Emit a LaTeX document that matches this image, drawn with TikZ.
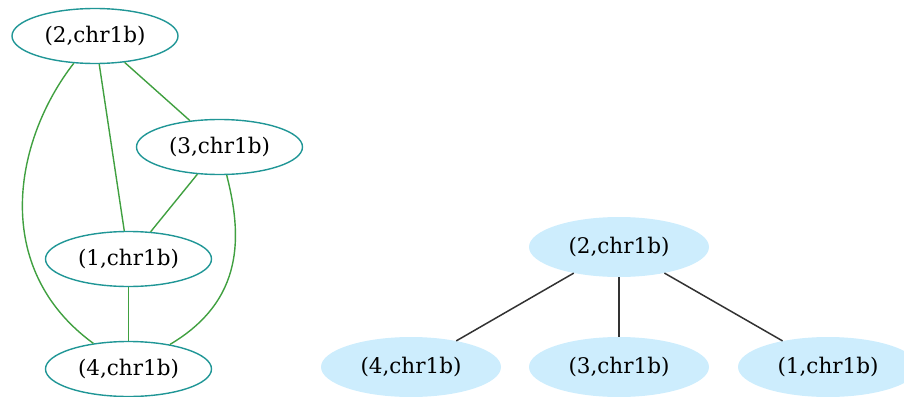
\documentclass[tikz,border=0pt]{standalone}
\usepackage{fontspec}
\setmainfont{DejaVu Serif}
\usetikzlibrary{shapes.geometric}
\definecolor{tealedge}{RGB}{32,150,150}
\definecolor{greenedge}{RGB}{64,160,64}
\definecolor{lightfill}{RGB}{205,237,253}
\definecolor{darkedge}{RGB}{50,50,50}
\tikzset{
  lnode/.style={ellipse, draw=tealedge, line width=1.4pt, minimum width=166pt, minimum height=55pt, inner sep=0pt, font=\fontsize{21.5}{25}\selectfont},
  rnode/.style={ellipse, fill=lightfill, draw=none, minimum width=180pt, minimum height=60pt, inner sep=0pt, font=\fontsize{21.5}{25}\selectfont},
  gedge/.style={draw=greenedge, line width=1.4pt},
  dedge/.style={draw=darkedge, line width=1.5pt}
}
\begin{document}
\begin{tikzpicture}[x=1pt,y=1pt]
\useasboundingbox (0,0) rectangle (904,-396);
\clip (0,0) rectangle (904,-396);
% left graph
\node[lnode] (a2) at (95,-36) {(2,chr1b)};
\node[lnode] (a3) at (219.5,-147) {(3,chr1b)};
\node[lnode] (a1) at (128.5,-259) {(1,chr1b)};
\node[lnode] (a4) at (128.5,-369) {(4,chr1b)};
\draw[gedge] (a2) -- (a3);
\draw[gedge] (a2) -- (a1);
\draw[gedge] (a3) -- (a1);
\draw[gedge] (a1) -- (a4);
\draw[gedge] (a2) .. controls (14,-140) and (-10,-268) .. (a4);
\draw[gedge] (a3) .. controls (242,-235) and (245,-300) .. (a4);
% right graph
\node[rnode] (b2) at (619,-247) {(2,chr1b)};
\node[rnode] (b4) at (411,-367) {(4,chr1b)};
\node[rnode] (b3) at (619,-367) {(3,chr1b)};
\node[rnode] (b1) at (828,-367) {(1,chr1b)};
\draw[dedge] (b2) -- (b4);
\draw[dedge] (b2) -- (b3);
\draw[dedge] (b2) -- (b1);
\end{tikzpicture}
\end{document}
